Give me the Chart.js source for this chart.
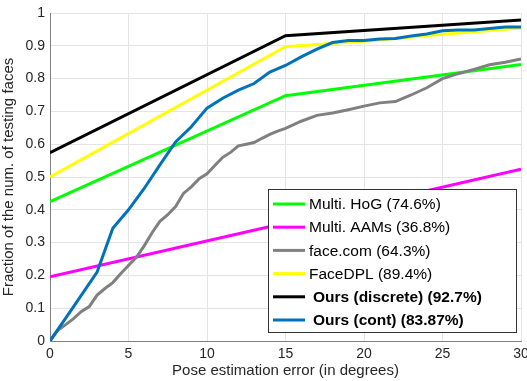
<!DOCTYPE html>
<html>
<head>
<meta charset="utf-8">
<script src="https://cdn.jsdelivr.net/npm/chart.js@4"></script>
<style>
  html, body { margin: 0; padding: 0; background: #fff; }
  #wrap { width: 527px; height: 381px; position: relative; }
</style>
</head>
<body>
<div id="wrap"><canvas id="poseChart"></canvas></div>
<script>
// tick labels
const xTicks = [0, 5, 10, 15, 20, 25, 30];
const yTicks = [0, 0.1, 0.2, 0.3, 0.4, 0.5, 0.6, 0.7, 0.8, 0.9, 1];

// series (x = pose error in degrees, y = fraction of faces)
const hogX = [0, 15, 30];
const hogY = [0.425, 0.748, 0.843];

const aamX = [0, 15, 30];
const aamY = [0.196, 0.36, 0.524];

const faceComX = [0, 0.5, 1, 1.5, 2, 2.5, 3, 3.5, 4, 4.5, 5, 5.5, 6, 6.5, 7, 7.5, 8, 8.5, 9, 9.5,
    10, 10.5, 11, 11.5, 12, 12.5, 13, 13.5, 14, 14.5, 15, 16, 17, 18, 19, 20, 21, 22, 23, 24, 25,
    26, 27, 28, 29, 30];
const faceComY = [0, 0.033, 0.05, 0.068, 0.09, 0.105, 0.14, 0.16, 0.178, 0.205, 0.23, 0.255, 0.29,
    0.33, 0.365, 0.385, 0.41, 0.45, 0.47, 0.495, 0.51, 0.535, 0.56, 0.575, 0.595, 0.6, 0.605, 0.618,
    0.63, 0.64, 0.648, 0.67, 0.688, 0.695, 0.705, 0.716, 0.726, 0.73, 0.75, 0.772, 0.8, 0.815, 0.828,
    0.842, 0.85, 0.86];

const dplX = [0, 15, 20, 25, 30];
const dplY = [0.5, 0.897, 0.914, 0.935, 0.954];

const discX = [0, 15, 30];
const discY = [0.574, 0.931, 0.979];

const contX = [0, 1, 2, 3, 4, 5, 6, 7, 8, 9, 10, 11, 12, 13, 14, 15, 16, 17, 18, 19, 20, 21, 22,
    23, 24, 25, 26, 27, 28, 29, 30];
const contY = [0, 0.07, 0.14, 0.21, 0.344, 0.40, 0.465, 0.537, 0.607, 0.653, 0.71, 0.74, 0.765,
    0.785, 0.82, 0.84, 0.866, 0.89, 0.91, 0.916, 0.916, 0.921, 0.922, 0.93, 0.936, 0.946, 0.948,
    0.948, 0.953, 0.957, 0.957];

const seriesLabels = ["Multi. HoG (74.6%)", "Multi. AAMs (36.8%)", "face.com (64.3%)",
    "FaceDPL (89.4%)", "Ours (discrete) (92.7%)", "Ours (cont) (83.87%)"];
const seriesColors = ["#00ff00", "#ff00ff", "#808080", "#ffff00", "#000000", "#0072bd"];
const seriesBold = [false, false, false, false, true, true];

const toPoints = (xs, ys) => xs.map((x, i) => ({ x: x, y: ys[i] }));

const allX = [hogX, aamX, faceComX, dplX, discX, contX];
const allY = [hogY, aamY, faceComY, dplY, discY, contY];
// draw order: blue on top, then black, yellow ...
const drawOrder = [4, 5, 3, 2, 1, 0];

const datasets = seriesLabels.map((label, i) => ({
    label: label,
    data: toPoints(allX[i], allY[i]),
    borderColor: seriesColors[i],
    borderWidth: 3,
    pointRadius: 0,
    tension: 0,
    fill: false,
    order: drawOrder[i],
}));

const FONT = "'Liberation Sans', Arial, sans-serif";
const TEXT = "#262626";

// legend box drawn inside the plot, like the MATLAB figure
const insideLegend = {
    id: "insideLegend",
    afterDraw(chart) {
        const ctx = chart.ctx;
        const left = 268, top = 189, w = 248, h = 143;
        ctx.save();
        ctx.fillStyle = "#fff";
        ctx.fillRect(left, top, w, h);
        ctx.strokeStyle = "#333";
        ctx.lineWidth = 1;
        ctx.strokeRect(left + 0.5, top + 0.5, w, h);
        ctx.textBaseline = "middle";
        seriesLabels.forEach((label, i) => {
            const y = 204 + i * 23.2;
            ctx.strokeStyle = seriesColors[i];
            ctx.lineWidth = 3;
            ctx.beginPath();
            ctx.moveTo(273, y);
            ctx.lineTo(305, y);
            ctx.stroke();
            ctx.fillStyle = "#000";
            ctx.font = (seriesBold[i] ? "bold " : "") + "15.5px " + FONT;
            ctx.fillText(label, seriesBold[i] ? 313 : 309, y + 1);
        });
        ctx.restore();
    },
};

new Chart(document.getElementById("poseChart"), {
    type: "line",
    data: { datasets: datasets },
    options: {
        responsive: true,
        maintainAspectRatio: false,
        animation: false,
        layout: { padding: { top: 13, right: 0, left: 0, bottom: 0 } },
        plugins: {
            legend: { display: false },
            tooltip: { enabled: false },
        },
        scales: {
            x: {
                type: "linear",
                min: 0,
                max: 30,
                afterBuildTicks: axis => { axis.ticks = xTicks.map(v => ({ value: v })); },
                afterFit: axis => { axis.height = 40; axis.paddingRight = 6; axis.paddingLeft = 0; },
                grid: { color: "#e4e4e4", drawTicks: false },
                border: { color: "#808080", width: 1 },
                ticks: {
                    color: TEXT,
                    padding: 5,
                    font: { size: 14, family: FONT },
                },
                title: {
                    display: true,
                    text: "Pose estimation error (in degrees)",
                    color: TEXT,
                    padding: { top: 0, bottom: 1 },
                    font: { size: 15, family: FONT },
                },
            },
            y: {
                type: "linear",
                min: 0,
                max: 1,
                afterBuildTicks: axis => { axis.ticks = yTicks.map(v => ({ value: v })); },
                afterFit: axis => { axis.width = 50; axis.paddingTop = 0; axis.paddingBottom = 0; },
                grid: { color: "#e4e4e4", drawTicks: false },
                border: { color: "#808080", width: 1 },
                ticks: {
                    color: TEXT,
                    padding: 5,
                    font: { size: 14, family: FONT },
                    callback: v => String(v),
                },
                title: {
                    display: true,
                    text: "Fraction of the num. of testing faces",
                    color: TEXT,
                    padding: { top: 0, bottom: 1 },
                    font: { size: 15, family: FONT },
                },
            },
        },
    },
    plugins: [insideLegend],
});
</script>
</body>
</html>
